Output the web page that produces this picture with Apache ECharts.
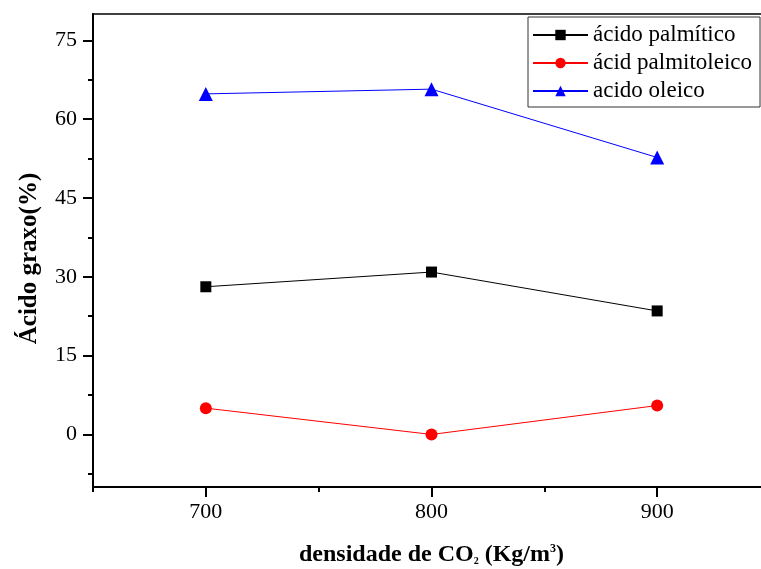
<!DOCTYPE html>
<html>
<head>
<meta charset="utf-8">
<script src="https://cdn.jsdelivr.net/npm/echarts@6/dist/echarts.min.js"></script>
<style>html,body{margin:0;padding:0;background:#fff}#c{width:761px;height:569px}</style>
</head>
<body>
<div id="c"></div>
<script>
const densities = [700, 800, 900];
const palmitico = [28.1, 30.9, 23.5];
const palmitoleico = [5.0, 0.0, 5.5];
const oleico = [64.8, 65.7, 52.7];
const seriesNames = ['ácido palmítico', 'ácid palmitoleico', 'acido oleico'];
const yMajorTicks = [0, 15, 30, 45, 60, 75];
const yMinorTicks = [-7.5, 7.5, 22.5, 37.5, 52.5, 67.5];
const xMajorTicks = [700, 800, 900];
const xMinorTicks = [650, 750, 850];

const font = 'Liberation Serif';
const chart = echarts.init(document.getElementById('c'));
const pairs = a => densities.map((d, i) => [d, a[i]]);

const axisBase = {
  type: 'value', min: -10, max: 80,
  splitLine: { show: false }
};
chart.setOption({
  animation: false,
  backgroundColor: '#fff',
  grid: { left: 93, top: 14, width: 677, height: 473, show: true, borderColor: '#000', borderWidth: 1.5,
          containLabel: false, outerBoundsMode: 'none' },
  xAxis: [
    { type: 'value', min: 650, max: 950, splitLine: { show: false },
      axisLine: { onZero: false, lineStyle: { color: '#000', width: 2 } },
      axisTick: { customValues: xMajorTicks, length: 10, lineStyle: { color: '#000', width: 2 } },
      axisLabel: { customValues: xMajorTicks, fontFamily: font, fontSize: 22, color: '#000', margin: 14 },
      name: '{t|densidade de CO}{s|2}{t| (Kg/m}{p|3}{t|)}', nameLocation: 'middle', nameGap: 56,
      nameTextStyle: { rich: {
        t: { fontFamily: font, fontWeight: 'bold', fontSize: 24, color: '#000' },
        s: { fontFamily: font, fontWeight: 'bold', fontSize: 10, color: '#000', padding: [12, 0, 0, 0] },
        p: { fontFamily: font, fontWeight: 'bold', fontSize: 12, color: '#000', padding: [0, 0, 12, 0] }
      } } },
    { type: 'value', min: 650, max: 950, position: 'bottom', splitLine: { show: false },
      axisLine: { show: false, onZero: false },
      axisTick: { customValues: xMinorTicks, length: 5, lineStyle: { color: '#000', width: 2 } },
      axisLabel: { show: false } }
  ],
  yAxis: [
    Object.assign({}, axisBase, {
      axisLine: { onZero: false, lineStyle: { color: '#000', width: 2 } },
      axisTick: { customValues: yMajorTicks, length: 10, lineStyle: { color: '#000', width: 2 } },
      axisLabel: { customValues: yMajorTicks, fontFamily: font, fontSize: 22, color: '#000', margin: 16 },
      name: 'Ácido graxo(%)', nameLocation: 'middle', nameGap: 51,
      nameTextStyle: { fontFamily: font, fontWeight: 'bold', fontSize: 25, color: '#000', padding: [0, 16, 0, 0] }
    }),
    Object.assign({}, axisBase, {
      position: 'left',
      axisLine: { show: false, onZero: false },
      axisTick: { customValues: yMinorTicks, length: 5, lineStyle: { color: '#000', width: 2 } },
      axisLabel: { show: false }
    })
  ],
  legend: {
    left: 528, top: 17, orient: 'vertical', itemGap: 4,
    padding: [6, 8, 4, 4], borderColor: '#333', borderWidth: 1, backgroundColor: '#fff',
    itemWidth: 55, itemHeight: 13,
    textStyle: { fontFamily: font, fontSize: 23, color: '#000', lineHeight: 24 },
    data: seriesNames
  },
  series: [
    { name: seriesNames[0], type: 'line', data: pairs(palmitico), symbol: 'rect', symbolSize: 11,
      lineStyle: { color: '#000', width: 1 }, itemStyle: { color: '#000' } },
    { name: seriesNames[1], type: 'line', data: pairs(palmitoleico), symbol: 'circle', symbolSize: 12,
      lineStyle: { color: '#ff0000', width: 1 }, itemStyle: { color: '#ff0000' } },
    { name: seriesNames[2], type: 'line', data: pairs(oleico), symbol: 'triangle', symbolSize: 14,
      lineStyle: { color: '#0000ff', width: 1 }, itemStyle: { color: '#0000ff' } }
  ]
});
</script>
</body>
</html>
